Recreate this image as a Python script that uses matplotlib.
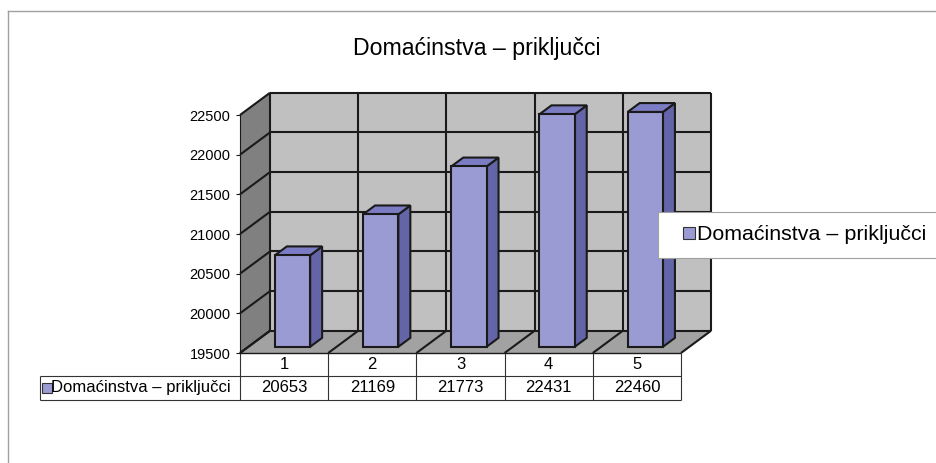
import matplotlib
matplotlib.use("Agg")
import matplotlib.pyplot as plt
from matplotlib.patches import Polygon
from matplotlib.lines import Line2D

plt.rcParams['font.family'] = ['Liberation Sans', 'DejaVu Sans']

# data
categories = ["1", "2", "3", "4", "5"]
values = [20653, 21169, 21773, 22431, 22460]
series_name = "Domaćinstva – priključci"
title = "Domaćinstva – priključci"
y_ticks = [19500, 20000, 20500, 21000, 21500, 22000, 22500]

# colours
FRONT = '#9b9bd4'
SIDE = '#6464a8'
TOP = '#7c7cc4'
BACK_WALL = '#c0c0c0'
SIDE_WALL = '#808080'
FLOOR = '#a2a2a2'
GRID = '#1a1a1a'

# oblique depth offset (category units, value units)
DX, DY = 0.34, 280
Y0, Y1 = y_ticks[0], y_ticks[-1]
n = len(categories)
X0, X1 = 0.5, n + 0.5


def proj(x, v, d):
    return (x + d * DX, v + d * DY)


fig = plt.figure(figsize=(9.36, 4.63), dpi=100)
ax = fig.add_axes([240 / 936, 1 - 353 / 463, 441 / 936, 238 / 463])
ax.set_xlim(X0, X1)
ax.set_ylim(Y0, Y1)
ax.patch.set_visible(False)
for s in ['top', 'right', 'bottom']:
    ax.spines[s].set_visible(False)
ax.spines['left'].set_color(GRID)
ax.spines['left'].set_linewidth(0.8)
ax.set_xticks([])
ax.set_yticks(y_ticks)
ax.set_yticklabels([str(t) for t in y_ticks], fontsize=10.5)
ax.tick_params(axis='y', length=3, width=0.8, color=GRID, pad=4)


def poly(pts, fc, ec='none', lw=0, z=1):
    ax.add_patch(Polygon(pts, closed=True, facecolor=fc, edgecolor=ec,
                         linewidth=lw, zorder=z, clip_on=False))


def line(p, q, lw=1.5, c=GRID, z=2):
    ax.add_line(Line2D([p[0], q[0]], [p[1], q[1]], color=c, lw=lw,
                       zorder=z, clip_on=False, solid_capstyle='butt'))


# walls and floor
poly([proj(X0, Y0, 1), proj(X1, Y0, 1), proj(X1, Y1, 1), proj(X0, Y1, 1)], BACK_WALL)
poly([proj(X0, Y0, 0), proj(X0, Y1, 0), proj(X0, Y1, 1), proj(X0, Y0, 1)], SIDE_WALL)
poly([proj(X0, Y0, 0), proj(X1, Y0, 0), proj(X1, Y0, 1), proj(X0, Y0, 1)], FLOOR)

# value gridlines on side and back wall
for t in y_ticks:
    line(proj(X0, t, 0), proj(X0, t, 1))
    line(proj(X0, t, 1), proj(X1, t, 1))
# category gridlines on back wall and floor
for k in range(n + 1):
    xb = X0 + k
    line(proj(xb, Y0, 1), proj(xb, Y1, 1))
    line(proj(xb, Y0, 0), proj(xb, Y0, 1))
line(proj(X0, Y0, 0), proj(X1, Y0, 0), lw=1.0)

# columns
half = 0.2
f0, f1 = 0.28, 0.68
for i, v in enumerate(values):
    c = i + 1
    xl, xr = c - half, c + half
    front = [proj(xl, Y0, f0), proj(xr, Y0, f0), proj(xr, v, f0), proj(xl, v, f0)]
    side = [proj(xr, Y0, f0), proj(xr, Y0, f1), proj(xr, v, f1), proj(xr, v, f0)]
    top = [proj(xl, v, f0), proj(xr, v, f0), proj(xr, v, f1), proj(xl, v, f1)]
    poly(side, SIDE, GRID, 1.5, z=5)
    poly(top, TOP, GRID, 1.5, z=5)
    poly(front, FRONT, GRID, 1.5, z=6)

# data table below the plot
r_mid = 19210
r_bot = 18908
lab_x = -1.77
tcol = '#333333'
for k in range(n + 1):
    line((X0 + k, Y0), (X0 + k, r_bot), lw=0.8, c=tcol)
line((lab_x, r_mid), (X1, r_mid), lw=0.8, c=tcol)
line((lab_x, r_bot), (X1, r_bot), lw=0.8, c=tcol)
line((lab_x, r_mid), (lab_x, r_bot), lw=0.8, c=tcol)
for i, (cat, v) in enumerate(zip(categories, values)):
    ax.text(i + 1, (Y0 + r_mid) / 2, cat, ha='center', va='center',
            fontsize=12, clip_on=False)
    ax.text(i + 1, (r_mid + r_bot) / 2, str(v), ha='center', va='center',
            fontsize=12, clip_on=False)
ax.plot([lab_x + 0.085], [(r_mid + r_bot) / 2], marker='s', ms=6.5,
        mfc=FRONT, mec='#333333', mew=0.8, clip_on=False, ls='none')
ax.text(lab_x + 0.13, (r_mid + r_bot) / 2, series_name, ha='left', va='center',
        fontsize=12, clip_on=False)

# legend
handle = Line2D([], [], marker='s', ls='none', ms=8, mfc=FRONT,
                mec='#333333', mew=0.8)
leg = ax.legend([handle], [series_name], loc='center left',
                bbox_to_anchor=(658 / 936, 1 - 235 / 463),
                bbox_transform=fig.transFigure, fontsize=15.4, frameon=True,
                fancybox=False, framealpha=1, edgecolor='#a0a0a0',
                borderpad=0.65, borderaxespad=0, handlelength=1.6,
                handletextpad=-0.42)
leg.get_frame().set_linewidth(0.8)
leg.set_zorder(20)

fig.text(477 / 936, 1 - 48 / 463, title, ha='center', va='center', fontsize=16.7)

# outer chart border
fig.add_artist(Line2D([8 / 936, 1.0], [1 - 11 / 463] * 2, color='#a0a0a0',
                      lw=1.0, transform=fig.transFigure))
fig.add_artist(Line2D([8 / 936] * 2, [1 - 11 / 463, 0.0], color='#a0a0a0',
                      lw=1.0, transform=fig.transFigure))

fig.savefig('out.png', dpi=100)
